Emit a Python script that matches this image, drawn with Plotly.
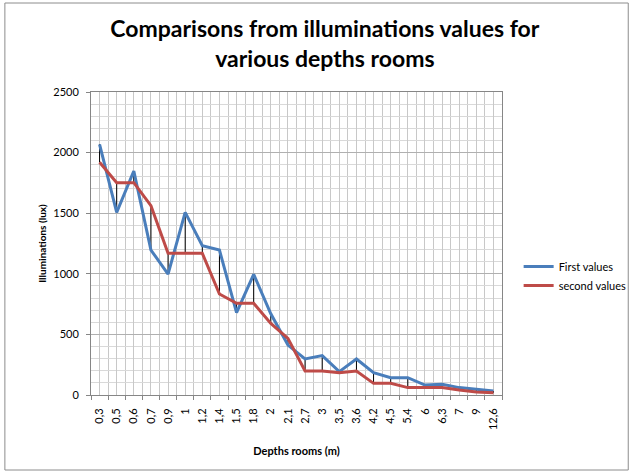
import plotly.graph_objects as go

categories = ["0,3", "0,5", "0,6", "0,7", "0,9", "1", "1,2", "1,4", "1,5", "1,8", "2", "2,1",
              "2,7", "3", "3,5", "3,6", "4,2", "4,5", "5,4", "6", "6,3", "7", "9", "12,6"]
first_values = [2068, 1507, 1848, 1196, 998, 1507, 1232, 1196, 679, 996, 670, 412,
                297, 325, 193, 297, 184, 143, 143, 82, 88, 61, 47, 33]
second_values = [1920, 1752, 1752, 1562, 1169, 1169, 1169, 833, 756, 756, 591, 467,
                 198, 198, 184, 198, 96, 96, 61, 61, 61, 41, 25, 19]
y_ticks = [0, 500, 1000, 1500, 2000, 2500]

idx = list(range(len(categories)))

# high-low connector lines
hl_x, hl_y = [], []
for i, a, b in zip(idx, first_values, second_values):
    hl_x += [i, i, None]
    hl_y += [a, b, None]

fig = go.Figure()
fig.add_trace(go.Scatter(x=hl_x, y=hl_y, mode="lines", line=dict(color="#000000", width=1),
                         showlegend=False, hoverinfo="skip"))
fig.add_trace(go.Scatter(x=idx, y=first_values, mode="lines", name="First values",
                         line=dict(color="#4a7ebb", width=3)))
fig.add_trace(go.Scatter(x=idx, y=second_values, mode="lines", name="second values",
                         line=dict(color="#be4b48", width=3)))

W, H = 644, 473
L, R, T, B = 91, 133, 92, 78
pw, ph = W - L - R, H - T - B

fig.update_layout(
    width=W, height=H,
    margin=dict(l=L, r=R, t=T, b=B),
    paper_bgcolor="white", plot_bgcolor="white",
    font=dict(family="Lato, Open Sans, sans-serif", color="#000000", size=11),
    title=dict(text="<b>Comparisons from illuminations values for<br>various depths rooms</b>",
               x=(330 - L) / pw, xref="paper", xanchor="center",
               y=1 - 37 / H, yanchor="middle", yref="container",
               font=dict(size=23, family="Lato, sans-serif")),
    legend=dict(x=(528 - L) / pw, y=(395 - 276) / ph, xanchor="left", yanchor="middle",
                font=dict(size=11), bgcolor="rgba(0,0,0,0)", tracegroupgap=16),
    showlegend=True,
    xaxis=dict(range=[-0.5, len(categories) - 0.5], tickmode="array", tickvals=idx,
               ticktext=categories, tickangle=-90, showgrid=True, gridcolor="#c8c8c8",
               gridwidth=1, zeroline=False, showline=True, linecolor="#868686",
               ticks="", tickfont=dict(size=11), ticklabelstandoff=8,
               minor=dict(tick0=-0.5, dtick=1, showgrid=True, gridcolor="#c8c8c8",
                          ticks="outside", ticklen=4, tickcolor="#868686"),
               title=dict(text="<b>Depths rooms (m)</b>", font=dict(size=11), standoff=18),
               mirror=True),
    yaxis=dict(range=[0, 2500], tickmode="array", tickvals=y_ticks, showgrid=True,
               gridcolor="#b0b0b0", zeroline=False, showline=True, linecolor="#868686",
               ticks="outside", ticklen=4, tickcolor="#868686", tickfont=dict(size=11),
               ticklabelstandoff=5,
               minor=dict(dtick=100, showgrid=True, gridcolor="#d9d9d9"),
               title=dict(text="<b>Illuminations (lux)</b>", font=dict(size=10), standoff=4),
               mirror=True),
    shapes=[dict(type="rect", xref="paper", yref="paper",
                 x0=(3 - L) / pw, x1=(640 - L) / pw,
                 y0=(H - B - 470) / ph, y1=(H - B - 3) / ph,
                 line=dict(color="#8c8c8c", width=1), fillcolor="rgba(0,0,0,0)", layer="below")],
)

fig.write_html("out.html", config={"displayModeBar": False},
               post_script="document.body.style.margin='0';")
